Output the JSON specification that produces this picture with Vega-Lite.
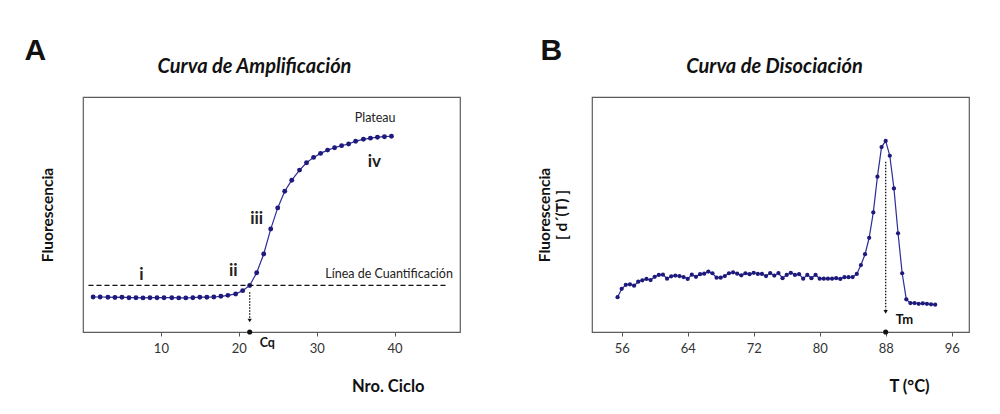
{
  "$schema": "https://vega.github.io/schema/vega-lite/v6.json",
  "background": "white",
  "padding": {"left": 23, "top": 34, "right": 5, "bottom": 5},
  "spacing": 75,
  "config": {
    "view": {"stroke": "#5c5c5c", "strokeWidth": 1.2},
    "axis": {"grid": false},
    "font": "Lato"
  },
  "datasets": {
    "amp": [
      {"x": 1.3, "y": 14.9}, {"x": 2.2, "y": 14.9}, {"x": 3.2, "y": 14.8}, {"x": 4.1, "y": 14.7},
      {"x": 5.0, "y": 14.8}, {"x": 5.9, "y": 14.6}, {"x": 6.8, "y": 14.6}, {"x": 7.7, "y": 14.5},
      {"x": 8.6, "y": 14.6}, {"x": 9.5, "y": 14.6}, {"x": 10.4, "y": 14.6}, {"x": 11.4, "y": 14.6},
      {"x": 12.3, "y": 14.5}, {"x": 13.2, "y": 14.5}, {"x": 14.1, "y": 14.6}, {"x": 15.0, "y": 14.8},
      {"x": 15.9, "y": 14.8}, {"x": 16.8, "y": 14.9}, {"x": 17.7, "y": 15.2}, {"x": 18.6, "y": 15.6},
      {"x": 19.6, "y": 16.2}, {"x": 20.5, "y": 17.6}, {"x": 21.4, "y": 19.8}, {"x": 22.3, "y": 25.2},
      {"x": 23.2, "y": 33.2}, {"x": 24.1, "y": 43.8}, {"x": 25.0, "y": 52.8}, {"x": 25.9, "y": 59.9},
      {"x": 26.8, "y": 64.6}, {"x": 27.8, "y": 68.9}, {"x": 28.7, "y": 72.0}, {"x": 29.6, "y": 74.3},
      {"x": 30.5, "y": 76.0}, {"x": 31.4, "y": 77.4}, {"x": 32.3, "y": 78.4}, {"x": 33.2, "y": 79.3},
      {"x": 34.1, "y": 80.0}, {"x": 35.0, "y": 81.2}, {"x": 36.0, "y": 82.0}, {"x": 36.9, "y": 82.5},
      {"x": 37.8, "y": 82.9}, {"x": 38.7, "y": 83.1}, {"x": 39.6, "y": 83.3}
    ],
    "melt": [
      {"x": 55.5, "y": 14.8}, {"x": 56.0, "y": 18.4}, {"x": 56.5, "y": 20.1}, {"x": 57.0, "y": 20.3},
      {"x": 57.5, "y": 19.7}, {"x": 58.0, "y": 21.4}, {"x": 58.5, "y": 22.0}, {"x": 59.0, "y": 22.6},
      {"x": 59.5, "y": 22.1}, {"x": 60.0, "y": 23.5}, {"x": 60.5, "y": 24.3}, {"x": 61.0, "y": 24.4},
      {"x": 61.5, "y": 22.7}, {"x": 62.0, "y": 23.7}, {"x": 62.5, "y": 24.0}, {"x": 63.0, "y": 23.8},
      {"x": 63.5, "y": 23.4}, {"x": 64.0, "y": 22.6}, {"x": 64.5, "y": 24.4}, {"x": 65.0, "y": 23.5},
      {"x": 65.5, "y": 24.6}, {"x": 66.0, "y": 24.8}, {"x": 66.5, "y": 25.7}, {"x": 67.0, "y": 25.0},
      {"x": 67.5, "y": 23.1}, {"x": 68.0, "y": 23.1}, {"x": 68.5, "y": 23.8}, {"x": 69.0, "y": 25.0},
      {"x": 69.5, "y": 25.4}, {"x": 70.0, "y": 24.8}, {"x": 70.5, "y": 24.1}, {"x": 71.0, "y": 25.0},
      {"x": 71.5, "y": 24.6}, {"x": 72.0, "y": 25.2}, {"x": 72.5, "y": 24.7}, {"x": 73.0, "y": 24.7},
      {"x": 73.5, "y": 23.8}, {"x": 74.0, "y": 25.1}, {"x": 74.5, "y": 24.0}, {"x": 75.0, "y": 25.1},
      {"x": 75.5, "y": 22.9}, {"x": 76.0, "y": 24.3}, {"x": 76.5, "y": 25.2}, {"x": 77.0, "y": 24.3},
      {"x": 77.5, "y": 24.6}, {"x": 78.0, "y": 22.7}, {"x": 78.5, "y": 24.3}, {"x": 79.0, "y": 22.9},
      {"x": 79.5, "y": 24.3}, {"x": 80.0, "y": 22.7}, {"x": 80.5, "y": 22.7}, {"x": 81.0, "y": 22.7},
      {"x": 81.5, "y": 22.7}, {"x": 82.0, "y": 22.9}, {"x": 82.5, "y": 22.6}, {"x": 83.0, "y": 23.3},
      {"x": 83.5, "y": 23.3}, {"x": 84.0, "y": 23.4}, {"x": 84.5, "y": 24.7}, {"x": 85.0, "y": 28.5},
      {"x": 85.5, "y": 33.1}, {"x": 86.0, "y": 40.1}, {"x": 86.5, "y": 50.9}, {"x": 87.0, "y": 66.1},
      {"x": 87.5, "y": 78.7}, {"x": 88.0, "y": 81.3}, {"x": 88.5, "y": 75.0}, {"x": 89.0, "y": 61.1},
      {"x": 89.5, "y": 42.0}, {"x": 90.0, "y": 25.0}, {"x": 90.5, "y": 13.9}, {"x": 91.0, "y": 12.3},
      {"x": 91.5, "y": 12.3}, {"x": 92.0, "y": 12.0}, {"x": 92.5, "y": 12.2}, {"x": 93.0, "y": 12.0},
      {"x": 93.5, "y": 11.8}, {"x": 94.0, "y": 11.6}
    ]
  },
  "hconcat": [
    {
      "width": 377,
      "height": 235,
      "layer": [
        {
          "data": {"name": "amp"},
          "mark": {"type": "line", "color": "#2e2c96", "strokeWidth": 1.2, "point": {"filled": true, "color": "#1e1a7c", "size": 24}},
          "encoding": {
            "x": {"field": "x", "type": "quantitative", "scale": {"domain": [0, 48.4], "nice": false, "zero": false},
              "axis": {"orient": "bottom", "title": "Nro. Ciclo", "values": [10, 20, 30, 40], "domain": false, "tickColor": "#555", "tickSize": 4, "tickWidth": 1, "labelFont": "Lato", "labelFontSize": 13, "labelColor": "#333", "labelPadding": 6, "titleFont": "Lato", "titleFontSize": 16.5, "titleFontWeight": "bold", "titleColor": "#111", "titleX": 304.7, "titleY": 54, "titleBaseline": "middle", "titleAlign": "center"}},
            "y": {"field": "y", "type": "quantitative", "scale": {"domain": [0, 100], "nice": false, "zero": false},
              "axis": {"orient": "left", "title": "Fluorescencia", "labels": false, "ticks": false, "domain": false, "titleFont": "Lato", "titleFontSize": 15.5, "titleFontWeight": "bold", "titleColor": "#111", "titleX": -35.5, "titleBaseline": "middle"}}
          }
        },
        {
          "data": {"values": [{"x": 0.7, "x2": 46.8, "y": 19.8}]},
          "mark": {"type": "rule", "color": "#111", "strokeWidth": 1.2, "strokeDash": [5, 3]},
          "encoding": {
            "x": {"field": "x", "type": "quantitative", "axis": null},
            "x2": {"field": "x2"},
            "y": {"field": "y", "type": "quantitative", "axis": null}
          }
        },
        {
          "data": {"values": [{"x": 21.4, "y": 16.9, "y2": 5.8}]},
          "mark": {"type": "rule", "color": "#111", "strokeWidth": 1.3, "strokeDash": [1.5, 1.5]},
          "encoding": {
            "x": {"field": "x", "type": "quantitative", "axis": null},
            "y": {"field": "y", "type": "quantitative", "axis": null},
            "y2": {"field": "y2"}
          }
        },
        {
          "data": {"values": [{"x": 21.4, "y": 4.9}]},
          "mark": {"type": "point", "shape": "triangle-down", "filled": true, "color": "#111", "size": 18, "opacity": 1},
          "encoding": {
            "x": {"field": "x", "type": "quantitative", "axis": null},
            "y": {"field": "y", "type": "quantitative", "axis": null}
          }
        },
        {
          "data": {"values": [{"x": 21.4, "y": 0}]},
          "mark": {"type": "point", "shape": "circle", "filled": true, "color": "#111", "size": 26, "opacity": 1},
          "encoding": {
            "x": {"field": "x", "type": "quantitative", "axis": null},
            "y": {"field": "y", "type": "quantitative", "axis": null}
          }
        },
        {
          "data": {"values": [{"x": 21.4, "y": 0, "label": "Cq"}]},
          "mark": {"type": "text", "font": "Lato", "fontSize": 12.5, "fontWeight": "bold", "color": "#111", "align": "left", "baseline": "middle", "dx": 10, "dy": 11},
          "encoding": {
            "x": {"field": "x", "type": "quantitative", "axis": null},
            "y": {"field": "y", "type": "quantitative", "axis": null},
            "text": {"field": "label"}
          }
        },
        {
          "data": {"values": [{"x": 37.5, "y": 90.9, "label": "Plateau"}, {"x": 39.3, "y": 24.7, "label": "Línea de Cuantificación"}]},
          "mark": {"type": "text", "font": "Lato", "fontSize": 12.5, "color": "#222", "align": "center", "baseline": "middle"},
          "encoding": {
            "x": {"field": "x", "type": "quantitative", "axis": null},
            "y": {"field": "y", "type": "quantitative", "axis": null},
            "text": {"field": "label"}
          }
        },
        {
          "data": {"values": [{"x": 7.5, "y": 24.3, "label": "i"}, {"x": 19.3, "y": 26.0, "label": "ii"}, {"x": 22.3, "y": 48.1, "label": "iii"}, {"x": 37.4, "y": 72.5, "label": "iv"}]},
          "mark": {"type": "text", "font": "Lato", "fontSize": 17, "fontWeight": "bold", "color": "#222", "align": "center", "baseline": "middle"},
          "encoding": {
            "x": {"field": "x", "type": "quantitative",
              "axis": {"orient": "top", "title": "Curva de Amplificación", "labels": false, "ticks": false, "domain": false, "titleFont": "Lato", "titleFontSize": 20, "titleFontWeight": "bold", "titleFontStyle": "italic", "titleColor": "#111", "titleX": 171, "titleY": -25, "titleBaseline": "alphabetic", "titleAlign": "center"}},
            "y": {"field": "y", "type": "quantitative",
              "axis": {"orient": "right", "title": "A", "labels": false, "ticks": false, "domain": false, "titleFont": "Liberation Sans", "titleFontSize": 30, "titleFontWeight": "bold", "titleColor": "#111", "titleAngle": 0, "titleAlign": "left", "titleBaseline": "alphabetic", "titleX": -436, "titleY": -38}},
            "text": {"field": "label"}
          }
        }
      ]
    },
    {
      "width": 377,
      "height": 235,
      "layer": [
        {
          "data": {"name": "melt"},
          "mark": {"type": "line", "color": "#2e2c96", "strokeWidth": 1.2, "point": {"filled": true, "color": "#1e1a7c", "size": 18}},
          "encoding": {
            "x": {"field": "x", "type": "quantitative", "scale": {"domain": [52.4, 98.1], "nice": false, "zero": false},
              "axis": {"orient": "bottom", "title": "T (°C)", "values": [56, 64, 72, 80, 88, 96], "domain": false, "tickColor": "#555", "tickSize": 4, "tickWidth": 1, "labelFont": "Lato", "labelFontSize": 13, "labelColor": "#333", "labelPadding": 6, "titleFont": "Lato", "titleFontSize": 16.5, "titleFontWeight": "bold", "titleColor": "#111", "titleX": 317, "titleY": 54, "titleBaseline": "middle", "titleAlign": "center"}},
            "y": {"field": "y", "type": "quantitative", "scale": {"domain": [0, 100], "nice": false, "zero": false},
              "axis": {"orient": "left", "title": ["Fluorescencia", "[ d´(T) ]"], "labels": false, "ticks": false, "domain": false, "titleFont": "Lato", "titleFontSize": 15.5, "titleFontWeight": "bold", "titleColor": "#111", "titleLineHeight": 17, "titleX": -48, "titleBaseline": "middle"}}
          }
        },
        {
          "data": {"values": [{"x": 88, "y": 72.5, "y2": 9.6}]},
          "mark": {"type": "rule", "color": "#111", "strokeWidth": 1.3, "strokeDash": [1.5, 1.5]},
          "encoding": {
            "x": {"field": "x", "type": "quantitative", "axis": null},
            "y": {"field": "y", "type": "quantitative", "axis": null},
            "y2": {"field": "y2"}
          }
        },
        {
          "data": {"values": [{"x": 88, "y": 8.6}]},
          "mark": {"type": "point", "shape": "triangle-down", "filled": true, "color": "#111", "size": 18, "opacity": 1},
          "encoding": {
            "x": {"field": "x", "type": "quantitative", "axis": null},
            "y": {"field": "y", "type": "quantitative", "axis": null}
          }
        },
        {
          "data": {"values": [{"x": 88, "y": 0}]},
          "mark": {"type": "point", "shape": "circle", "filled": true, "color": "#111", "size": 26, "opacity": 1},
          "encoding": {
            "x": {"field": "x", "type": "quantitative", "axis": null},
            "y": {"field": "y", "type": "quantitative", "axis": null}
          }
        },
        {
          "data": {"values": [{"x": 88, "y": 5.1, "label": "Tm"}]},
          "mark": {"type": "text", "font": "Lato", "fontSize": 13, "fontWeight": "bold", "color": "#111", "align": "left", "baseline": "middle", "dx": 10},
          "encoding": {
            "x": {"field": "x", "type": "quantitative",
              "axis": {"orient": "top", "title": "Curva de Disociación", "labels": false, "ticks": false, "domain": false, "titleFont": "Lato", "titleFontSize": 20, "titleFontWeight": "bold", "titleFontStyle": "italic", "titleColor": "#111", "titleX": 182, "titleY": -25, "titleBaseline": "alphabetic", "titleAlign": "center"}},
            "y": {"field": "y", "type": "quantitative",
              "axis": {"orient": "right", "title": "B", "labels": false, "ticks": false, "domain": false, "titleFont": "Liberation Sans", "titleFontSize": 30, "titleFontWeight": "bold", "titleColor": "#111", "titleAngle": 0, "titleAlign": "left", "titleBaseline": "alphabetic", "titleX": -429, "titleY": -38}},
            "text": {"field": "label"}
          }
        }
      ]
    }
  ]
}
